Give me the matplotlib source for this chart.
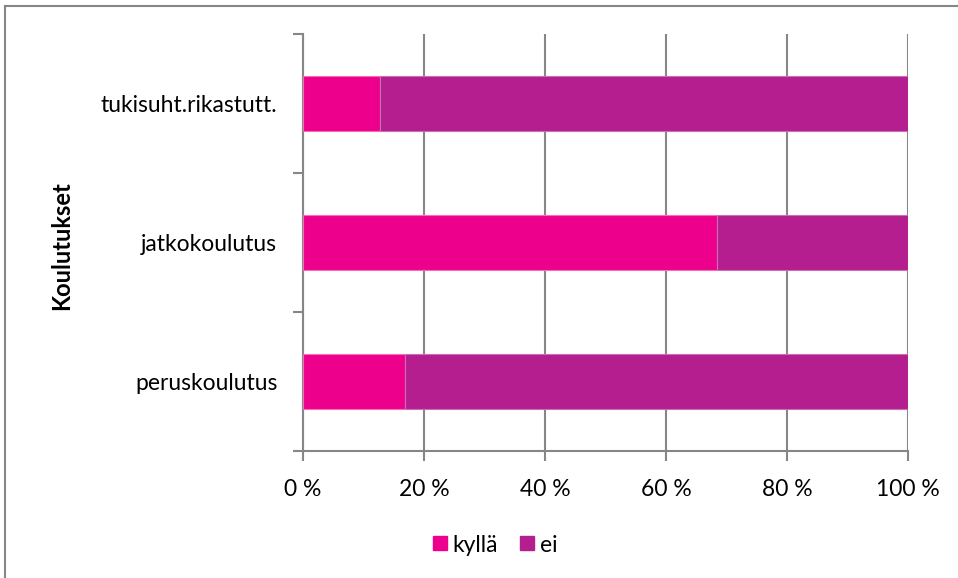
import matplotlib
matplotlib.use("Agg")
import matplotlib.pyplot as plt
from matplotlib.lines import Line2D
from matplotlib.ticker import FuncFormatter

categories = ["peruskoulutus", "jatkokoulutus", "tukisuht.rikastutt."]
kylla = [16.9, 68.5, 12.8]
ei = [83.1, 31.5, 87.2]
series_names = ["kyllä", "ei"]
colors = ["#EC008C", "#B41E8E"]
xticks = [0, 20, 40, 60, 80, 100]
ylabel = "Koulutukset"

plt.rcParams["font.family"] = ["Lato", "DejaVu Sans"]
FS = 16.5

fig = plt.figure(figsize=(9.58, 5.78), dpi=100)
ax = fig.add_axes([303/958, 1-451/578, (908-303)/958, (451-34)/578])

ypos = range(len(categories))
ax.barh(ypos, kylla, height=0.4, color=colors[0], edgecolor="#F46FB8", linewidth=0.8, label=series_names[0], zorder=3)
ax.barh(ypos, ei, left=kylla, height=0.4, color=colors[1], edgecolor="#C96FB8", linewidth=0.8, label=series_names[1], zorder=3)

ax.set_xlim(0, 100)
ax.set_ylim(-0.5, 2.5)
ax.set_xticks(xticks)
ax.xaxis.set_major_formatter(FuncFormatter(lambda v, p: f"{int(v)} %"))
ax.set_yticks([-0.5, 0.5, 1.5, 2.5])
ax.set_yticklabels([])
ax.set_yticks(list(ypos), minor=True)
ax.set_yticklabels(categories, minor=True)
ax.tick_params(axis="y", which="minor", length=0, pad=18.5, labelsize=FS, labelcolor="#000000")
ax.tick_params(axis="y", which="major", length=7, width=1.5, color="#868686")
ax.tick_params(axis="x", length=7, width=1.5, color="#868686", labelsize=FS, pad=13)
ax.grid(axis="x", color="#868686", linewidth=1.5, zorder=0)
ax.set_axisbelow(True)
for s in ["top", "right"]:
    ax.spines[s].set_visible(False)
for s in ["left", "bottom"]:
    ax.spines[s].set_color("#868686")
    ax.spines[s].set_linewidth(1.5)

fig.text(62/958, 1-246/578, ylabel, rotation=90, fontsize=FS + 0.5, fontweight="bold", ha="center", va="center")

handles = [Line2D([], [], marker="s", linestyle="none", markersize=9.5, color=c) for c in colors]
fig.legend(handles, series_names, loc="center", bbox_to_anchor=(494/958, 1-545/578), ncol=2,
           frameon=False, fontsize=FS, handletextpad=0.15, columnspacing=0.9, handlelength=0.8)

fig.add_artist(Line2D([5/958, 5/958], [0, 1-6/578], color="#868686", linewidth=1.5, transform=fig.transFigure))
fig.add_artist(Line2D([5/958, 1], [1-6/578, 1-6/578], color="#868686", linewidth=1.5, transform=fig.transFigure))

fig.savefig("out.png", dpi=100)
